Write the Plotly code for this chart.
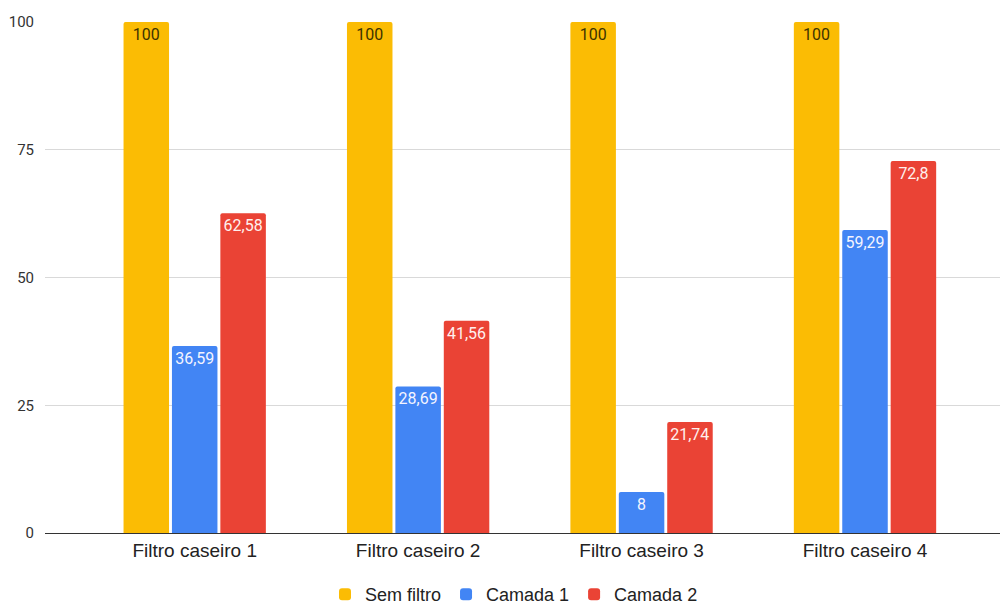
import plotly.graph_objects as go

categories = ["Filtro caseiro 1", "Filtro caseiro 2", "Filtro caseiro 3", "Filtro caseiro 4"]
sem_filtro = [100, 100, 100, 100]
camada_1 = [36.59, 28.69, 8, 59.29]
camada_2 = [62.58, 41.56, 21.74, 72.8]
y_ticks = [0, 25, 50, 75, 100]


def fmt(v):
    s = ("%g" % v)
    return s.replace(".", ",")


series = [
    ("Sem filtro", sem_filtro, "#FBBC04", "#3d3300"),
    ("Camada 1", camada_1, "#4285F4", "#f4f4ff"),
    ("Camada 2", camada_2, "#EA4335", "#fff0ee"),
]

fig = go.Figure()
for name, vals, color, tcolor in series:
    fig.add_trace(go.Bar(
        name=name, x=categories, y=vals,
        marker=dict(color=color, line=dict(width=0)),
        text=[fmt(v) for v in vals],
        textposition="inside", insidetextanchor="end",
        textangle=0,
        textfont=dict(color=tcolor, size=17, family="Roboto, Arial, sans-serif"),
        cliponaxis=False,
    ))

fig.update_layout(
    width=1000, height=601,
    margin=dict(l=37, r=0, t=14, b=76),
    paper_bgcolor="white", plot_bgcolor="white",
    barmode="group", bargap=0.35, bargroupgap=0.06,
    barcornerradius=2,
    font=dict(family="Roboto, Arial, sans-serif", size=13, color="#222"),
    showlegend=True,
    legend=dict(orientation="h", xref="container", x=0.506, xanchor="center",
                yref="container", y=0.024, yanchor="middle",
                font=dict(size=18, color="#222", family="Liberation Sans, Arial, sans-serif"),
                itemwidth=30, traceorder="normal"),
    xaxis=dict(range=[-0.67, 3.64], showgrid=False, showline=True,
               linecolor="#333", linewidth=1, ticks="",
               tickfont=dict(size=19, color="#222", family="Liberation Sans, Arial, sans-serif")),
    yaxis=dict(range=[0, 100], tickvals=y_ticks, showgrid=True,
               gridcolor="#d9d9d9", zeroline=False, showline=False,
               ticks="", tickfont=dict(size=15, color="#333"), ticklabelstandoff=10),
    uniformtext=dict(mode="show", minsize=10),
)

fig.write_html("out.html")
